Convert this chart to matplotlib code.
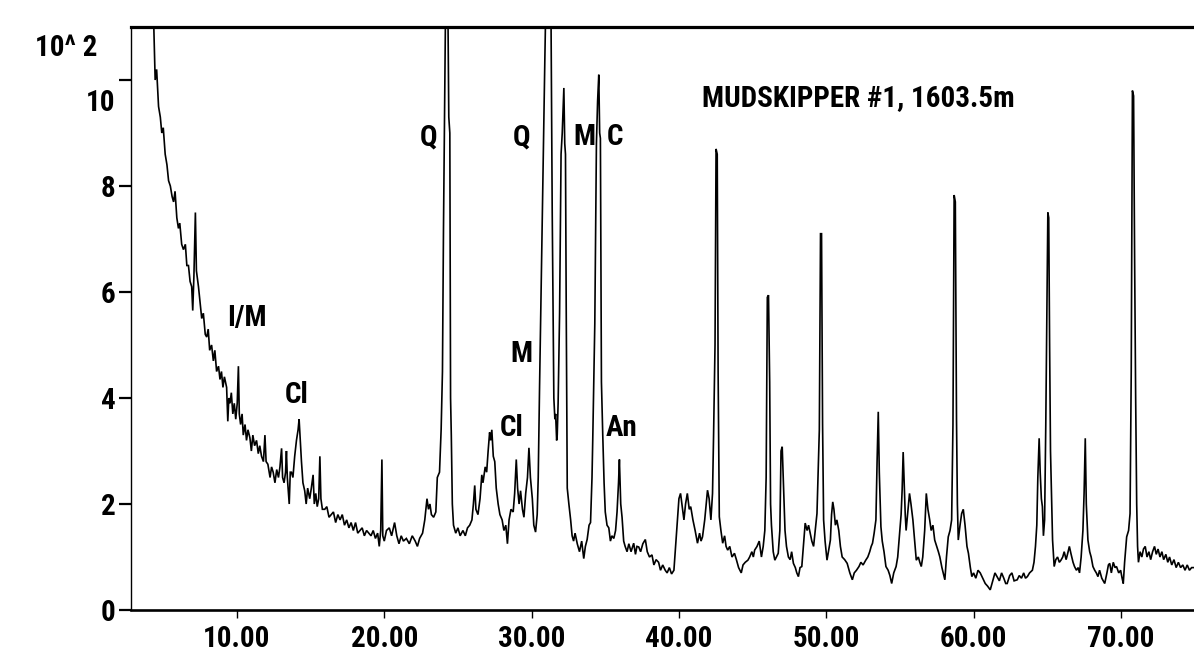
import matplotlib
matplotlib.use("Agg")
import matplotlib.pyplot as plt
from matplotlib import font_manager as fm
from matplotlib.transforms import ScaledTranslation

# ---------------- data ----------------
# 2-theta (degrees) and intensity in units of 10^2 counts
two_theta = [
    4.00, 4.34, 4.45, 4.55, 4.68, 4.80, 4.90, 5.00, 5.13, 5.25, 5.36, 5.48, 5.60, 5.70, 5.80, 5.92,
    6.03, 6.12, 6.25, 6.37, 6.50, 6.60, 6.71, 6.82, 6.93, 7.00, 7.08, 7.18, 7.25, 7.39, 7.50, 7.61,
    7.72, 7.85, 7.95, 8.05, 8.15, 8.28, 8.40, 8.50, 8.62, 8.75, 8.85, 8.95, 9.05, 9.15, 9.30, 9.38,
    9.45, 9.53, 9.62, 9.72, 9.82, 9.92, 10.02, 10.10, 10.16, 10.25, 10.35, 10.43, 10.55, 10.65,
    10.75, 10.88, 10.98, 11.08, 11.20, 11.33, 11.45, 11.55, 11.67, 11.80, 11.90, 11.98, 12.10,
    12.25, 12.35, 12.46, 12.58, 12.70, 12.82, 12.92, 13.03, 13.10, 13.20, 13.30, 13.36, 13.42,
    13.55, 13.62, 13.70, 13.80, 13.92, 14.04, 14.15, 14.22, 14.30, 14.38, 14.48, 14.60, 14.70,
    14.80, 14.94, 15.05, 15.17, 15.25, 15.35, 15.45, 15.55, 15.63, 15.70, 15.80, 15.96, 16.10,
    16.25, 16.40, 16.55, 16.70, 16.85, 17.00, 17.15, 17.30, 17.45, 17.60, 17.75, 17.90, 18.05,
    18.20, 18.35, 18.50, 18.65, 18.80, 18.95, 19.10, 19.25, 19.40, 19.55, 19.66, 19.76, 19.84,
    19.90, 20.00, 20.15, 20.34, 20.50, 20.70, 20.85, 21.00, 21.15, 21.30, 21.50, 21.70, 21.90,
    22.10, 22.25, 22.40, 22.60, 22.75, 22.90, 23.00, 23.10, 23.20, 23.35, 23.50, 23.60, 23.75,
    23.86, 23.95, 24.02, 24.10, 24.18, 24.30, 24.38, 24.45, 24.50, 24.55, 24.62, 24.70, 24.85,
    25.00, 25.15, 25.34, 25.50, 25.65, 25.80, 25.95, 26.05, 26.14, 26.22, 26.36, 26.50, 26.62,
    26.70, 26.85, 26.95, 27.05, 27.15, 27.22, 27.30, 27.40, 27.50, 27.60, 27.73, 27.85, 28.00,
    28.12, 28.25, 28.36, 28.47, 28.60, 28.75, 28.85, 28.96, 29.05, 29.15, 29.25, 29.38, 29.48,
    29.60, 29.72, 29.82, 29.92, 30.05, 30.15, 30.27, 30.38, 30.45, 30.54, 30.68, 30.79, 30.90,
    31.00, 31.30, 31.40, 31.51, 31.58, 31.63, 31.70, 31.74, 31.80, 31.90, 32.00, 32.08, 32.19,
    32.25, 32.30, 32.35, 32.42, 32.53, 32.65, 32.75, 32.85, 32.95, 33.10, 33.25, 33.40, 33.54,
    33.65, 33.77, 33.90, 34.00, 34.10, 34.15, 34.29, 34.40, 34.48, 34.56, 34.62, 34.67, 34.74,
    34.83, 34.92, 35.00, 35.12, 35.24, 35.35, 35.45, 35.58, 35.70, 35.80, 35.90, 35.96, 36.05,
    36.14, 36.25, 36.35, 36.48, 36.60, 36.75, 36.93, 37.05, 37.15, 37.27, 37.40, 37.55, 37.72,
    37.85, 38.00, 38.17, 38.30, 38.45, 38.62, 38.75, 38.90, 39.07, 39.20, 39.35, 39.50, 39.66,
    39.77, 39.90, 40.00, 40.11, 40.25, 40.34, 40.45, 40.57, 40.70, 40.80, 40.95, 41.10, 41.26,
    41.40, 41.50, 41.60, 41.75, 41.85, 41.94, 42.05, 42.17, 42.28, 42.35, 42.45, 42.52, 42.60,
    42.66, 42.74, 42.85, 42.97, 43.10, 43.20, 43.31, 43.45, 43.60, 43.77, 43.90, 44.05, 44.23,
    44.35, 44.50, 44.68, 44.80, 44.95, 45.05, 45.14, 45.30, 45.45, 45.60, 45.72, 45.83, 45.92,
    46.00, 46.08, 46.16, 46.22, 46.28, 46.40, 46.51, 46.62, 46.74, 46.85, 46.93, 47.01, 47.08,
    47.20, 47.30, 47.43, 47.55, 47.65, 47.77, 47.90, 48.00, 48.11, 48.22, 48.34, 48.45, 48.57,
    48.70, 48.80, 48.91, 49.02, 49.14, 49.25, 49.37, 49.45, 49.53, 49.61, 49.68, 49.75, 49.82,
    49.92, 50.05, 50.15, 50.28, 50.36, 50.44, 50.52, 50.62, 50.72, 50.85, 50.96, 51.08, 51.25,
    51.42, 51.60, 51.77, 51.90, 52.05, 52.22, 52.35, 52.50, 52.68, 52.82, 52.95, 53.05, 53.14,
    53.25, 53.37, 53.45, 53.53, 53.60, 53.71, 53.80, 53.92, 54.05, 54.20, 54.32, 54.44, 54.58,
    54.74, 54.85, 54.96, 55.08, 55.15, 55.22, 55.30, 55.36, 55.42, 55.52, 55.65, 55.75, 55.88,
    56.00, 56.11, 56.25, 56.35, 56.45, 56.55, 56.68, 56.79, 56.90, 57.02, 57.12, 57.24, 57.36,
    57.50, 57.61, 57.71, 57.85, 58.05, 58.16, 58.28, 58.40, 58.51, 58.60, 58.68, 58.76, 58.84,
    58.90, 58.96, 59.08, 59.19, 59.30, 59.42, 59.55, 59.65, 59.78, 59.88, 60.00, 60.15, 60.30,
    60.45, 60.62, 60.79, 60.95, 61.13, 61.30, 61.45, 61.59, 61.75, 61.90, 62.05, 62.18, 62.28,
    62.45, 62.60, 62.75, 62.96, 63.10, 63.25, 63.40, 63.52, 63.65, 63.80, 63.99, 64.10, 64.20,
    64.29, 64.36, 64.45, 64.52, 64.60, 64.67, 64.74, 64.82, 64.90, 64.97, 65.04, 65.10, 65.16,
    65.22, 65.30, 65.36, 65.47, 65.58, 65.70, 65.82, 65.93, 66.05, 66.15, 66.28, 66.39, 66.50,
    66.62, 66.75, 66.85, 66.98, 67.10, 67.19, 67.30, 67.42, 67.50, 67.58, 67.65, 67.76, 67.88,
    67.98, 68.10, 68.22, 68.33, 68.44, 68.55, 68.70, 68.90, 69.05, 69.15, 69.24, 69.35, 69.48,
    69.60, 69.70, 69.85, 69.98, 70.08, 70.16, 70.25, 70.39, 70.52, 70.62, 70.70, 70.78, 70.86,
    70.93, 71.00, 71.07, 71.13, 71.19, 71.30, 71.42, 71.53, 71.65, 71.77, 71.90, 72.02, 72.15,
    72.28, 72.40, 72.52, 72.65, 72.78, 72.90, 73.05, 73.18, 73.30, 73.45, 73.60, 73.75, 73.90,
    74.05, 74.20, 74.35, 74.50, 74.65, 74.80, 75.00,
]
intensity = [
    13.0, 11.2, 10.0, 10.2, 9.5, 9.3, 9.0, 9.1, 8.6, 8.4, 8.1, 8.0, 7.8, 7.7, 7.9, 7.4,
    7.2, 7.3, 6.9, 6.8, 6.9, 6.5, 6.5, 6.2, 6.1, 5.65, 6.3, 7.5, 6.4, 6.1, 5.8, 5.5,
    5.6, 5.2, 5.15, 5.3, 4.9, 5.0, 4.7, 4.9, 4.5, 4.6, 4.35, 4.5, 4.2, 4.4, 4.2, 3.56,
    4.0, 3.9, 4.1, 3.7, 3.9, 3.6, 3.9, 4.6, 3.7, 3.5, 3.7, 3.3, 3.5, 3.2,
    3.4, 3.25, 3.0, 3.3, 3.1, 3.2, 2.95, 3.1, 2.9, 2.8, 3.3, 2.8, 2.75,
    2.5, 2.7, 2.6, 2.4, 2.65, 2.5, 2.7, 3.05, 2.5, 2.4, 2.6, 3.0, 2.5,
    2.0, 2.6, 2.6, 2.5, 2.9, 3.2, 3.4, 3.6, 3.2, 2.8, 2.4, 2.25, 2.0,
    2.3, 2.1, 2.3, 2.55, 2.0, 2.2, 1.95, 2.1, 2.9, 2.1, 1.9, 1.9, 1.95,
    1.75, 1.8, 1.85, 1.65, 1.8, 1.7, 1.8, 1.6, 1.7, 1.55, 1.65, 1.5, 1.65,
    1.45, 1.5, 1.55, 1.4, 1.5, 1.45, 1.4, 1.5, 1.35, 1.45, 1.2, 1.5, 2.84,
    1.4, 1.3, 1.5, 1.55, 1.4, 1.65, 1.4, 1.25, 1.4, 1.3, 1.35, 1.25, 1.4,
    1.3, 1.2, 1.35, 1.45, 1.7, 2.1, 1.9, 2.0, 1.8, 1.75, 1.85, 2.5, 2.6,
    3.4, 4.5, 7.2, 9.5, 12.0, 12.0, 9.3, 9.0, 4.0, 3.3, 2.0, 1.6, 1.45,
    1.55, 1.4, 1.5, 1.4, 1.55, 1.6, 1.7, 2.0, 2.35, 1.9, 1.8, 2.1, 2.55,
    2.4, 2.7, 2.6, 3.0, 3.35, 3.2, 3.4, 2.9, 2.8, 2.3, 2.0, 1.8, 1.7,
    1.5, 1.6, 1.25, 1.7, 1.9, 1.85, 2.2, 2.84, 2.3, 2.0, 2.25, 1.9, 1.75,
    2.2, 2.5, 3.06, 2.5, 2.1, 1.6, 1.47, 1.8, 2.5, 4.2, 6.65, 8.5, 10.4,
    12.0, 12.0, 7.5, 4.0, 3.6, 3.7, 3.2, 3.3, 3.9, 5.6, 8.6, 9.0, 9.85,
    8.8, 8.6, 5.7, 2.3, 2.0, 1.7, 1.4, 1.3, 1.45, 1.25, 1.1, 1.3, 0.97,
    1.2, 1.33, 1.6, 1.65, 2.5, 3.2, 5.4, 8.8, 9.6, 10.1, 9.0, 8.9, 4.3,
    3.3, 2.4, 1.85, 1.6, 1.55, 1.3, 1.4, 1.35, 1.5, 1.85, 2.4, 2.84, 2.0,
    1.75, 1.3, 1.2, 1.1, 1.25, 1.1, 1.26, 1.05, 1.2, 1.19, 1.1, 1.25, 1.33,
    1.1, 1.0, 1.04, 0.85, 0.95, 0.9, 0.75, 0.85, 0.75, 0.7, 0.8, 0.68, 0.75,
    1.19, 1.7, 2.1, 2.2, 1.9, 1.7, 2.0, 2.2, 1.9, 1.95, 1.7, 1.5, 1.26,
    1.45, 1.3, 1.38, 1.7, 2.0, 2.26, 2.1, 1.7, 2.2, 3.27, 5.0, 8.7, 8.6,
    4.5, 1.76, 1.5, 1.26, 1.4, 1.2, 1.13, 1.2, 1.0, 1.07, 0.95, 0.8, 0.7,
    0.85, 0.9, 0.94, 1.0, 1.1, 1.0, 1.13, 1.2, 1.3, 1.0, 1.2, 1.5, 2.5,
    5.9, 5.94, 4.3, 2.0, 1.6, 1.1, 0.94, 1.0, 1.07, 1.5, 3.0, 3.08, 2.5,
    1.5, 1.2, 1.0, 0.95, 1.1, 0.88, 0.8, 0.7, 0.63, 0.8, 0.82, 1.2, 1.64,
    1.5, 1.6, 1.45, 1.3, 1.2, 1.5, 1.82, 2.6, 3.4, 7.1, 7.1, 3.5, 1.7,
    1.3, 0.94, 1.1, 1.32, 1.8, 2.04, 1.9, 1.6, 1.7, 1.5, 1.2, 1.0, 0.95,
    0.88, 0.7, 0.57, 0.7, 0.75, 0.82, 0.9, 0.85, 0.94, 1.0, 1.1, 1.2, 1.26,
    1.45, 1.7, 2.8, 3.74, 2.6, 1.57, 1.3, 1.1, 0.82, 0.75, 0.65, 0.5, 0.7,
    0.82, 1.0, 1.38, 1.8, 2.26, 2.98, 2.3, 1.8, 1.5, 1.8, 2.2, 2.0, 1.7,
    1.3, 0.94, 1.0, 0.9, 0.82, 1.0, 1.5, 2.2, 1.9, 1.7, 1.5, 1.6, 1.32,
    1.2, 1.1, 1.0, 0.8, 0.57, 1.0, 1.38, 1.5, 1.7, 3.5, 7.83, 7.7, 3.6,
    2.0, 1.32, 1.6, 1.82, 1.9, 1.6, 1.2, 1.07, 0.8, 0.63, 0.7, 0.6, 0.75,
    0.7, 0.6, 0.5, 0.45, 0.38, 0.55, 0.7, 0.63, 0.55, 0.7, 0.6, 0.5, 0.5,
    0.65, 0.7, 0.55, 0.57, 0.65, 0.6, 0.7, 0.6, 0.63, 0.7, 0.75, 0.9, 1.2,
    1.6, 2.5, 3.24, 2.6, 2.1, 1.95, 1.4, 1.7, 3.5, 5.6, 7.5, 7.4, 5.0,
    3.0, 2.0, 1.32, 0.82, 0.95, 1.0, 0.9, 0.94, 1.0, 1.1, 0.95, 1.07, 1.2,
    1.05, 0.9, 0.82, 0.75, 0.8, 0.7, 1.0, 1.5, 2.2, 3.24, 2.0, 1.32, 1.1,
    1.0, 0.82, 0.75, 0.7, 0.63, 0.75, 0.6, 0.5, 0.7, 0.85, 0.88, 0.7, 0.9,
    0.8, 0.82, 0.7, 0.75, 0.6, 0.5, 0.9, 1.38, 1.5, 1.82, 4.5, 9.8, 9.7,
    6.6, 4.0, 2.0, 1.2, 0.9, 1.1, 1.0, 1.15, 1.2, 1.0, 1.1, 0.95, 1.1,
    1.2, 1.05, 1.15, 1.0, 1.1, 0.95, 1.05, 0.9, 1.0, 0.85, 0.95, 0.8, 0.9,
    0.8, 0.85, 0.75, 0.85, 0.75, 0.8, 0.8,
]

x_ticks = [10, 20, 30, 40, 50, 60, 70]
x_tick_labels = ["10.00", "20.00", "30.00", "40.00", "50.00", "60.00", "70.00"]
y_ticks = [0, 2, 4, 6, 8, 10]
y_tick_labels = ["0", "2", "4", "6", "8", "10"]

phase_labels = ["I/M", "Cl", "Q", "Q", "M", "Cl", "M", "C", "An"]
phase_x = [10.68, 14.08, 23.04, 29.35, 29.28, 28.67, 33.56, 35.66, 36.14]
phase_y = [5.51, 4.06, 8.92, 8.92, 4.83, 3.43, 8.92, 8.92, 3.43]

title_text = "MUDSKIPPER #1, 1603.5m"
scale_text = "10^ 2"

# ---------------- font ----------------
def pick_font(cands):
    for c in cands:
        try:
            fm.findfont(fm.FontProperties(family=c, weight="bold"), fallback_to_default=False)
            return c
        except Exception:
            pass
    return "DejaVu Sans Mono"

FONT = pick_font(["Liberation Sans Narrow", "Roboto Condensed", "DejaVu Sans Condensed",
                  "DejaVu Sans Mono"])
FSIZE = 17 if FONT == "DejaVu Sans Mono" else 21
fkw = dict(family=FONT, fontsize=FSIZE, fontweight="bold", color="black")

# ---------------- figure ----------------
W, H = 1194, 661
fig = plt.figure(figsize=(W / 100, H / 100), dpi=100)
left, right, bottom, top = 131 / W, 1.0, 1 - 610 / H, 1 - 27 / H
ax = fig.add_axes([left, bottom, right - left, top - bottom])

ax.plot(two_theta, intensity, color="black", lw=1.2, solid_joinstyle="miter")

ax.set_xlim(2.81, 74.96)
ax.set_ylim(0, 11)

ax.spines["right"].set_visible(False)
ax.spines["top"].set_linewidth(2.3)
ax.spines["bottom"].set_linewidth(1.9)
ax.spines["left"].set_linewidth(1.0)

ax.set_xticks(x_ticks)
ax.set_xticklabels(x_tick_labels, **fkw)
ax.set_yticks(y_ticks)
ax.set_yticklabels(y_tick_labels, **fkw)
ax.tick_params(axis="x", direction="out", length=6, width=1.0, pad=5)
ax.tick_params(axis="y", direction="out", length=9, width=1.6, pad=2)

# the "10" label sits a little below its tick in the reference
lab10 = ax.get_yticklabels()[-1]
lab10.set_transform(lab10.get_transform() + ScaledTranslation(0, -0.2, fig.dpi_scale_trans))

for s, xx, yy in zip(phase_labels, phase_x, phase_y):
    ax.text(xx, yy, s, ha="center", va="center", **fkw)

ax.text(41.55, 9.66, title_text, ha="left", va="center", **fkw)
fig.text(35 / W, 1 - 48 / H, scale_text, ha="left", va="center", **fkw)

fig.savefig("out.png", dpi=100)
